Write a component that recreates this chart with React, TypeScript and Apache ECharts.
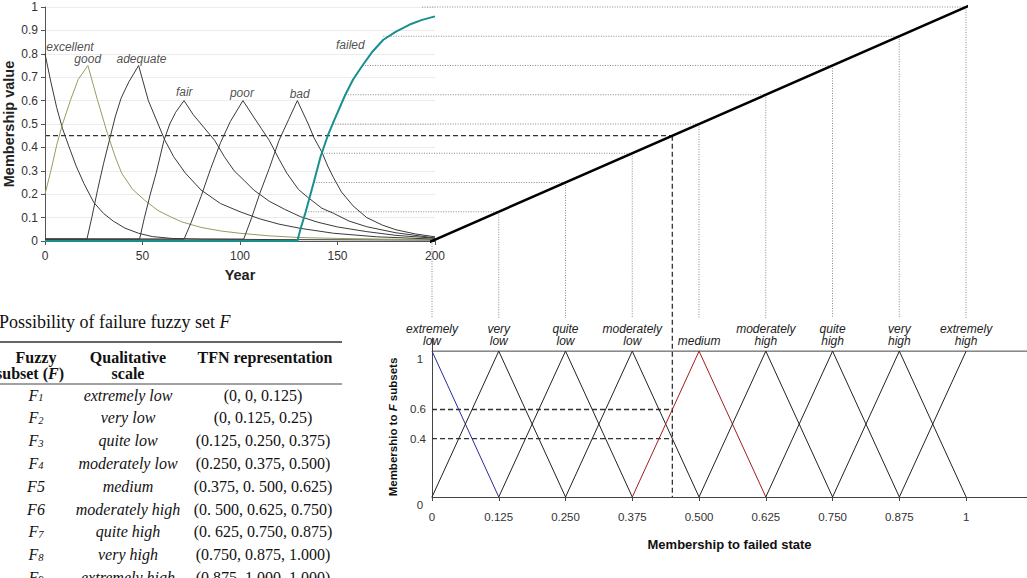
import React, { useEffect, useRef } from "react";
import * as echarts from "echarts";

type Pt = [number, number];

// ---------- Top chart: membership of condition states over the years
const excellent: Pt[] = [[0,0.8],[3,0.68],[6,0.57],[9,0.48],[12,0.41],[16,0.32],[20,0.245],[25,0.165],[30,0.118],[35,0.085],[41,0.055],[48,0.033],[55,0.019],[65,0.011],[80,0.008],[120,0.006],[200,0.004]];
const good: Pt[] = [[0,0.2],[3,0.3],[6,0.41],[9,0.5],[13,0.6],[17,0.69],[22,0.75],[27,0.6],[32,0.46],[36,0.36],[39.3,0.29],[45,0.22],[51,0.175],[58,0.13],[64,0.105],[70,0.082],[80,0.058],[90,0.043],[100,0.033],[115,0.022],[130,0.015],[150,0.011],[175,0.008],[200,0.006]];
const adequate: Pt[] = [[0,0.008],[21.5,0.008],[24,0.1],[27,0.22],[30,0.33],[33,0.43],[36,0.53],[39,0.61],[43,0.68],[48,0.75],[53,0.6],[58,0.5],[61.4,0.432],[66,0.36],[72,0.29],[80,0.218],[90,0.16],[100,0.125],[110,0.095],[120,0.072],[131,0.054],[148,0.033],[170,0.018],[200,0.008]];
const fair: Pt[] = [[0,0.008],[48.5,0.008],[51,0.1],[54,0.2],[57,0.29],[61,0.43],[64,0.5],[67,0.55],[71.3,0.6],[76,0.54],[80,0.5],[87,0.43],[92,0.36],[97,0.3],[102,0.26],[107,0.218],[115,0.17],[123,0.135],[131,0.104],[140,0.08],[150,0.06],[165,0.04],[180,0.024],[200,0.012]];
const poor: Pt[] = [[0,0.008],[71.3,0.008],[75,0.08],[80,0.19],[85,0.31],[90,0.42],[95,0.51],[101.5,0.6],[107,0.53],[111,0.48],[115,0.43],[120,0.35],[124,0.29],[130,0.22],[135,0.185],[142,0.14],[148,0.118],[156,0.085],[165,0.061],[180,0.035],[200,0.013]];
const bad: Pt[] = [[0,0.008],[101.9,0.008],[106,0.1],[110,0.2],[115,0.31],[120,0.43],[125,0.52],[129.4,0.6],[135,0.5],[138,0.44],[142,0.38],[145,0.32],[148,0.27],[152,0.21],[158,0.15],[165,0.1],[173,0.068],[180,0.048],[190,0.03],[200,0.018]];
const failed: Pt[] = [[0,0],[129.4,0],[131,0.05],[133.7,0.125],[137.8,0.25],[141.3,0.36],[145,0.45],[148.5,0.52],[154,0.625],[158,0.69],[162.8,0.75],[168,0.81],[173.5,0.86],[180,0.895],[187,0.925],[193.4,0.945],[200,0.96]];

const curveNames = ["excellent", "good", "adequate", "fair", "poor", "bad", "failed"];
const curveLabelPos: Pt[] = [[12.8,0.83],[21.9,0.778],[49.5,0.778],[71.4,0.637],[101,0.632],[130.6,0.628],[156.6,0.838]];

// ---------- Bottom chart: possibility-of-failure fuzzy subsets
const fuzzyLabels = ["extremely\nlow", "very\nlow", "quite\nlow", "moderately\nlow", "medium", "moderately\nhigh", "quite\nhigh", "very\nhigh", "extremely\nhigh"];
const tfn: [number, number, number][] = [
  [0, 0, 0.125], [0, 0.125, 0.25], [0.125, 0.25, 0.375], [0.25, 0.375, 0.5], [0.375, 0.5, 0.625],
  [0.5, 0.625, 0.75], [0.625, 0.75, 0.875], [0.75, 0.875, 1], [0.875, 1, 1],
];
const tfnColors = ["#2a2a9a", "#222", "#222", "#222", "#a01e1e", "#222", "#222", "#222", "#222"];
const xTickValues = [0, 0.125, 0.25, 0.375, 0.5, 0.625, 0.75, 0.875, 1];
const xTickLabels = ["0", "0.125", "0.250", "0.375", "0.500", "0.625", "0.750", "0.875", "1"];
const yTickValues = [0.4, 0.6];
const yEndValues = [0, 1];
const yEndLabels = ["0", "1"];
const bottomXMax = 1.114;
const bottomYMax = 1.09;

// ---------- connectors
const connectorLevels = [0.125, 0.25, 0.375, 0.5, 0.625, 0.75, 0.875, 1];
const connectorStartYear = [133.7, 137.8, 141.8, 147.5, 154, 162.8, 173.5, 193.4];
const diagonalExtent: Pt = [-0.02, 1.12];
const assessedLevel = 0.45;
const assessedMemberships = [0.6, 0.4];

// ---------- table
const tableTitle = "Possibility of failure fuzzy set ";
const subsetIds = ["1", "2", "3", "4", "5", "6", "7", "8", "9"];
const subsetSubscript = [true, true, true, true, false, false, true, true, true];
const qualitative = ["extremely low", "very low", "quite low", "moderately low", "medium", "moderately high", "quite high", "very high", "extremely high"];
const tfnText = ["(0, 0, 0.125)", "(0, 0.125, 0.25)", "(0.125, 0.250, 0.375)", "(0.250, 0.375, 0.500)", "(0.375, 0. 500, 0.625)", "(0. 500, 0.625, 0.750)", "(0. 625, 0.750, 0.875)", "(0.750, 0.875, 1.000)", "(0.875, 1.000, 1.000)"];

const SANS = '"Liberation Sans", Arial, Helvetica, sans-serif';
const SERIF = '"Liberation Serif", "Times New Roman", serif';

const idx = (arr: number[], v: number) => arr.findIndex((a) => Math.abs(a - v) < 1e-6);

function buildOption(): any {
  const curves = [excellent, good, adequate, fair, poor, bad];
  const curveColors = ["#3a3a3a", "#9a9a62", "#3a3a3a", "#3a3a3a", "#3a3a3a", "#3a3a3a"];
  const series: any[] = [];
  curves.forEach((c, i) => {
    series.push({
      type: "line", xAxisIndex: 0, yAxisIndex: 0, data: c, showSymbol: false, silent: true,
      lineStyle: { color: curveColors[i], width: 1 }, z: 3,
    });
  });
  series.push({
    type: "line", xAxisIndex: 0, yAxisIndex: 0, data: failed, showSymbol: false, silent: true,
    lineStyle: { color: "#17908f", width: 2 }, z: 4,
  });
  series.push({
    type: "scatter", xAxisIndex: 0, yAxisIndex: 0, symbolSize: 0, silent: true,
    data: curveNames.map((n, i) => ({ name: n, value: curveLabelPos[i] })),
    label: { show: true, position: "inside", formatter: "{b}", color: "#222", fontSize: 12, fontStyle: "italic", fontFamily: SANS },
  });
  // bottom chart triangles
  tfn.forEach(([a, b, c], i) => {
    series.push({
      type: "line", xAxisIndex: 1, yAxisIndex: 1, showSymbol: false, silent: true,
      data: [[a, a === b ? 1 : 0], [b, 1], [c, b === c ? 1 : 0]],
      lineStyle: { color: tfnColors[i], width: 1 }, z: 3,
    });
  });
  series.push({
    type: "line", xAxisIndex: 1, yAxisIndex: 1, showSymbol: false, silent: true,
    data: [[0, 1], [bottomXMax, 1]], lineStyle: { color: "#444", width: 1 }, z: 2,
  });
  assessedMemberships.forEach((v) => {
    series.push({
      type: "line", xAxisIndex: 1, yAxisIndex: 1, showSymbol: false, silent: true,
      data: [[0, v], [assessedLevel, v]], lineStyle: { color: "#333", width: 1.3, type: [5, 3] }, z: 2,
    });
  });
  // diagonal mapping line
  series.push({
    type: "line", xAxisIndex: 3, yAxisIndex: 2, showSymbol: false, silent: true, clip: false,
    data: [[diagonalExtent[0], diagonalExtent[0]], [diagonalExtent[1], diagonalExtent[1]]],
    lineStyle: { color: "#000", width: 2.5 }, z: 5,
  });

  return {
    animation: false,
    textStyle: { fontFamily: SANS },
    grid: [
      { left: 43, top: 7, width: 392, height: 234 },
      { left: 432, top: 338, width: 595, height: 159 },
      { left: 432, top: 7, width: 534, height: 234 },
    ],
    xAxis: [
      {
        gridIndex: 0, type: "value", min: 0, max: 200, interval: 50,
        name: "Year", nameLocation: "middle", nameGap: 26,
        nameTextStyle: { fontWeight: "bold", fontSize: 14.5, color: "#222" },
        axisLine: { lineStyle: { color: "#555" } },
        axisTick: { show: true, length: 4, lineStyle: { color: "#555" } },
        axisLabel: { color: "#333", fontSize: 12, margin: 9 },
        splitLine: { show: false },
      },
      {
        gridIndex: 1, type: "value", min: 0, max: bottomXMax,
        name: "Membership to failed state", nameLocation: "middle", nameGap: 41,
        nameTextStyle: { fontWeight: "bold", fontSize: 13, color: "#111" },
        axisLine: { onZero: false, lineStyle: { color: "#444" } },
        axisTick: { show: true, length: 4, customValues: xTickValues, lineStyle: { color: "#444" } },
        axisLabel: {
          color: "#333", fontSize: 11.5, margin: 14, customValues: xTickValues,
          formatter: (v: number) => { const i = idx(xTickValues, v); return i >= 0 ? xTickLabels[i] : ""; },
        },
        splitLine: { show: false },
      },
      {
        gridIndex: 1, type: "value", min: 0, max: bottomXMax, position: "top", offset: -13,
        axisLine: { show: false, onZero: false }, axisTick: { show: false }, splitLine: { show: false },
        axisLabel: {
          color: "#222", fontSize: 12, fontStyle: "italic", lineHeight: 12, margin: 4, customValues: xTickValues,
          formatter: (v: number) => { const i = idx(xTickValues, v); return i >= 0 ? fuzzyLabels[i] : ""; },
        },
      },
      { gridIndex: 2, type: "value", min: 0, max: 1, show: false },
    ],
    yAxis: [
      {
        gridIndex: 0, type: "value", min: 0, max: 1, interval: 0.1,
        name: "Membership value", nameLocation: "middle", nameGap: 29, nameRotate: 90,
        nameTextStyle: { fontWeight: "bold", fontSize: 14.5, color: "#222" },
        axisLine: { show: true, lineStyle: { color: "#555" } },
        axisTick: { show: true, length: 4, lineStyle: { color: "#555" } },
        axisLabel: { color: "#333", fontSize: 12, margin: 7 },
        splitLine: { show: true, lineStyle: { color: "#ececec", width: 1 } },
      },
      {
        gridIndex: 1, type: "value", min: 0, max: bottomYMax,
        axisLine: { show: true, onZero: false, lineStyle: { color: "#444" } },
        axisTick: { show: false },
        splitLine: { show: false },
        axisLabel: { color: "#333", fontSize: 11.5, margin: 6, customValues: yTickValues },
      },
      { gridIndex: 2, type: "value", min: 0, max: 1, show: false },
    ],
    series,
  };
}

function tableGraphics(): any[] {
  const els: any[] = [];
  const FS = 16;
  const txt = (x: number, y: number, text: string, rich: any, align = "center") => ({
    type: "text", x, y, silent: true,
    style: { text, rich, align, textAlign: align, verticalAlign: "middle", textVerticalAlign: "middle", fill: "#111", fontFamily: SERIF, fontSize: FS },
  });
  const n = { fontFamily: SERIF, fontSize: FS, fill: "#111", color: "#111" };
  const it = { ...n, fontStyle: "italic" };
  const b = { ...n, fontWeight: "bold" };
  const bi = { ...b, fontStyle: "italic" };
  const sub = { ...it, fontSize: 10.5, verticalAlign: "bottom" };
  els.push(txt(-1, 322, `{t|${tableTitle}}{ti|F}`, { t: { ...n, fontSize: 18 }, ti: { ...it, fontSize: 18 } }, "left"));
  els.push({ type: "line", silent: true, shape: { x1: 0, y1: 342, x2: 342, y2: 342 }, style: { stroke: "#333", lineWidth: 1.5 } });
  els.push({ type: "line", silent: true, shape: { x1: 0, y1: 384, x2: 342, y2: 384 }, style: { stroke: "#444", lineWidth: 1 } });
  els.push(txt(36, 357, "{b|Fuzzy}", { b }));
  els.push(txt(30, 373, "{b|subset (}{bi|F}{b|)}", { b, bi }));
  els.push(txt(128, 357, "{b|Qualitative}", { b }));
  els.push(txt(128, 373, "{b|scale}", { b }));
  els.push(txt(265, 357, "{b|TFN representation}", { b }));
  subsetIds.forEach((id, i) => {
    const y = 395 + i * 22.8;
    const label = subsetSubscript[i] ? `{f|F}{s|${id}}` : `{f|F${id}}`;
    els.push(txt(36, y, label, { f: it, s: sub }));
    els.push(txt(128, y, `{q|${qualitative[i]}}`, { q: it }));
    els.push(txt(263, y, `{v|${tfnText[i]}}`, { v: n }));
  });
  return els;
}

export default function App() {
  const ref = useRef<HTMLDivElement>(null);
  useEffect(() => {
    document.body.style.margin = "0";
    const chart = echarts.init(ref.current!, null, { renderer: "svg" });
    chart.setOption(buildOption());

    const p0 = (pt: Pt) => chart.convertToPixel({ xAxisIndex: 0, yAxisIndex: 0 } as any, pt) as unknown as number[];
    const p1 = (pt: Pt) => chart.convertToPixel({ xAxisIndex: 1, yAxisIndex: 1 } as any, pt) as unknown as number[];
    const p2 = (pt: Pt) => chart.convertToPixel({ xAxisIndex: 3, yAxisIndex: 2 } as any, pt) as unknown as number[];
    const dotted = { stroke: "#8a8a8a", lineWidth: 1, lineDash: [1, 1.5] };
    const dashed = { stroke: "#333", lineWidth: 1.3, lineDash: [5, 3] };
    const seg = (a: number[], c: number[], style: any) => ({
      type: "line", silent: true, shape: { x1: a[0], y1: a[1], x2: c[0], y2: c[1] }, style,
    });
    const conn: any[] = [];
    connectorLevels.forEach((lv, i) => {
      conn.push(seg(p0([connectorStartYear[i], lv]), p2([lv, lv]), dotted));
    });
    [0, ...connectorLevels].forEach((m) => {
      const top = p2([m, m]);
      const bot = p1([m, 1]);
      conn.push(seg(top, [top[0], bot[1] - 33], dotted));
    });
    const meet = p2([assessedLevel, assessedLevel]);
    conn.push(seg(p0([0, assessedLevel]), meet, dashed));
    conn.push(seg(meet, p1([assessedLevel, 0]), dashed));

    // end labels (0 and 1) of the bottom y axis sit slightly below their values, as in the figure
    const endLabels = yEndValues.map((v, i) => {
      const q = p1([0, v]);
      return {
        type: "text", x: q[0] - 12, y: q[1] + 8, silent: true,
        style: { text: yEndLabels[i], align: "center", textAlign: "center", verticalAlign: "middle", textVerticalAlign: "middle", fill: "#333", fontFamily: SANS, fontSize: 11.5 },
      };
    });

    const yName = {
      type: "text", x: 393, y: 427, rotation: Math.PI / 2, silent: true,
      style: {
        text: "{b|Membershio to }{bi|F}{b| subsets}", align: "center", textAlign: "center",
        verticalAlign: "middle", textVerticalAlign: "middle",
        rich: {
          b: { fontFamily: SANS, fontSize: 11.5, fontWeight: "bold", fill: "#111", color: "#111" },
          bi: { fontFamily: SANS, fontSize: 11.5, fontWeight: "bold", fontStyle: "italic", fill: "#111", color: "#111" },
        },
      },
    };

    chart.setOption({ graphic: { elements: [...conn, ...endLabels, yName, ...tableGraphics()] } });
    return () => chart.dispose();
  }, []);
  return <div ref={ref} style={{ width: 1027, height: 578 }} />;
}
